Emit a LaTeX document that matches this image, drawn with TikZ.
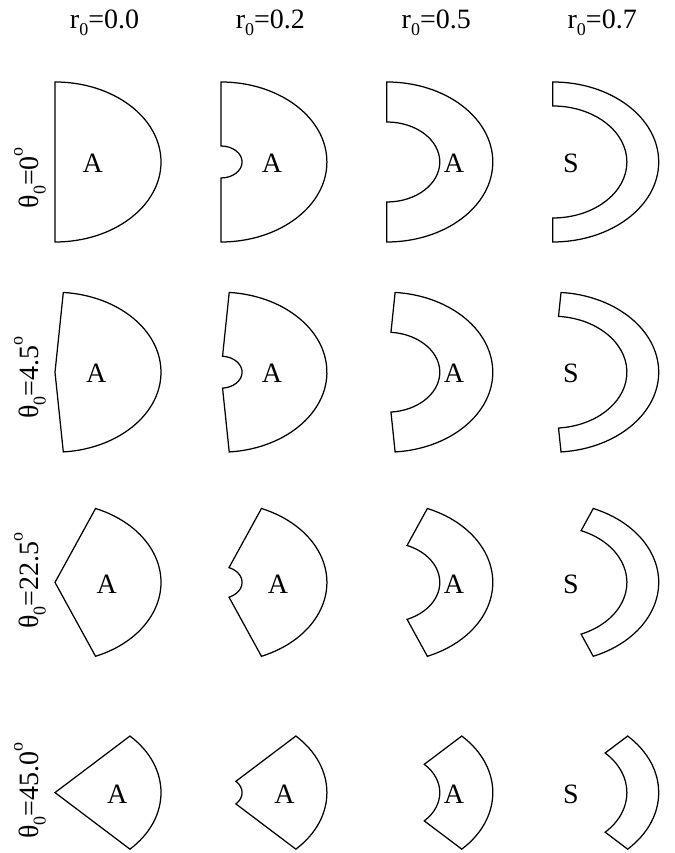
\documentclass[tikz,border=0pt]{standalone}
\usepackage{fontspec}
\setmainfont{Liberation Serif}
\usetikzlibrary{calc}
\newcommand{\lsub}[1]{\raisebox{-7pt}{\fontsize{18}{18}\selectfont #1}}
\newcommand{\lsup}[1]{\raisebox{16pt}{\fontsize{18}{18}\selectfont #1}}
\begin{document}
\begin{tikzpicture}[x=1pt,y=1pt,
  sect/.style={draw=black, line width=1.25pt, line join=miter},
  lab/.style={font=\fontsize{28}{30}\selectfont, inner sep=0pt}]
\useasboundingbox (0,0) rectangle (674,853);
% column headers
\foreach \rv [count=\j] in {0.0,0.2,0.5,0.7}{
  \pgfmathsetmacro{\hx}{104.5+165.9*(\j-1)}
  \node[lab, anchor=base] (head\j) at (\hx,824) {r\lsub{0}=\rv};
}
% row labels
\foreach \tv [count=\i] in {0,4.5,22.5,45.0}{
  \pgfmathsetmacro{\ly}{853-(162+210.2*(\i-1)+46.5)}
  \node[lab, rotate=90, anchor=base west] (rowlab\i) at (38.5,\ly) {θ\lsub{0}=\tv\lsup{o}};
}
% sectors
\foreach \th/\ia/\ib [count=\i] in {0/37.7/51, 4.5/41.3/51, 22.5/51.7/57.1, 45/62.3/63.6}{
  \foreach \rv/\lx/\lt [count=\j] in {0/\ia/A, 0.2/\ib/A, 0.5/67.3/A, 0.7/18.3/S}{
    \pgfmathsetmacro{\cx}{55+165.9*(\j-1)}
    \pgfmathsetmacro{\cy}{691-210.2*(\i-1)}
    \pgfmathsetmacro{\al}{90-\th}
    \pgfmathsetmacro{\ix}{106*\rv}
    \pgfmathsetmacro{\iy}{80*\rv}
    \pgfmathsetmacro{\ox}{\cx+106*cos(\al)}
    \pgfmathsetmacro{\oy}{\cy-80*sin(\al)}
    \pgfmathsetmacro{\px}{\cx+\ix*cos(\al)}
    \pgfmathsetmacro{\py}{\cy+\iy*sin(\al)}
    \coordinate (c\i\j) at (\cx,\cy);
    \coordinate (o\i\j) at (\ox,\oy);
    \coordinate (p\i\j) at (\px,\py);
    \ifdim \rv pt>0pt
      \draw[sect] (o\i\j)
        arc[start angle=-\al, end angle=\al, x radius=106pt, y radius=80pt]
        -- (p\i\j)
        arc[start angle=\al, end angle=-\al, x radius=\ix pt, y radius=\iy pt]
        -- cycle;
    \else
      \draw[sect] (o\i\j)
        arc[start angle=-\al, end angle=\al, x radius=106pt, y radius=80pt]
        -- (c\i\j) -- cycle;
    \fi
    \node[lab] (lab\i\j) at ($(c\i\j)+(\lx,-1.5)$) {\lt};
  }
}
\end{tikzpicture}
\end{document}
